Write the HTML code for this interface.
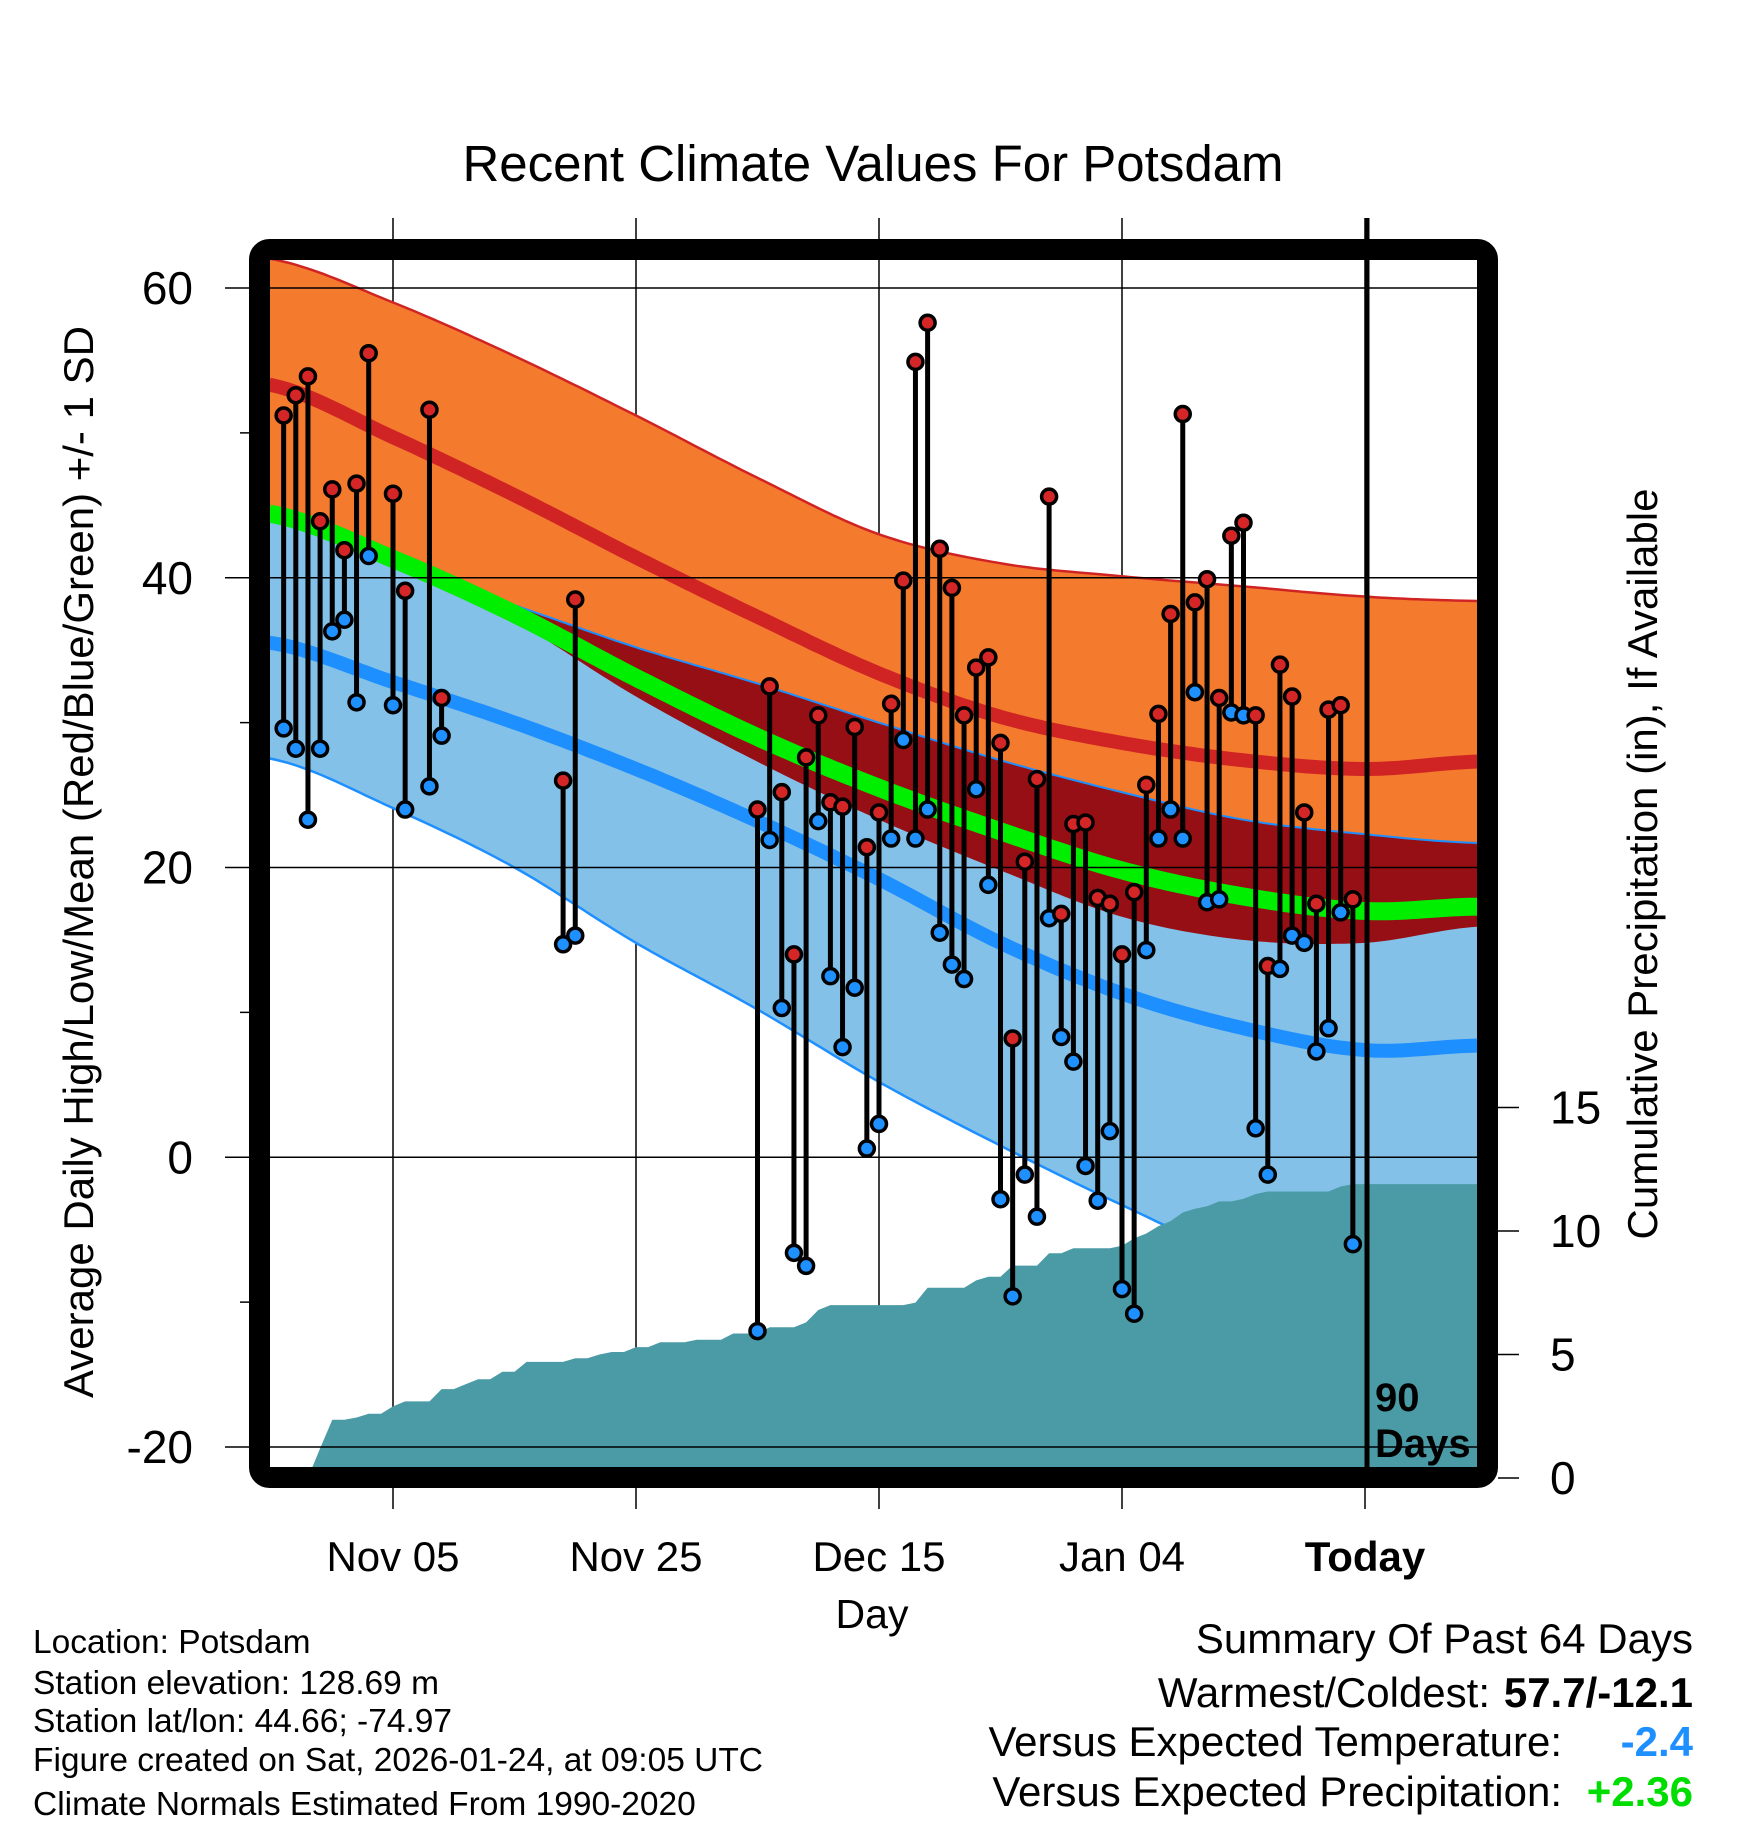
<!DOCTYPE html>
<html><head><meta charset="utf-8">
<style>
html,body{margin:0;padding:0;background:#fff;}
svg{display:block;font-family:"Liberation Sans",Arial,sans-serif;}
</style></head>
<body>
<svg id="chart" width="1748" height="1828" viewBox="0 0 1748 1828" xmlns="http://www.w3.org/2000/svg">
<defs><clipPath id="plotclip"><rect x="270" y="260" width="1207" height="1207"/></clipPath></defs>
<text x="873" y="181" font-size="51" text-anchor="middle">Recent Climate Values For Potsdam</text>
<g id="grid"></g>
<g id="bands" clip-path="url(#plotclip)"></g>
<g id="precip" clip-path="url(#plotclip)"></g>
<g id="hgrid"></g>
<g id="obs"></g>
<line x1="1367" y1="218" x2="1367" y2="1467" stroke="#000" stroke-width="5"/>
<text x="1375" y="1411" font-size="40" font-weight="bold">90</text>
<text x="1375" y="1457" font-size="40" font-weight="bold">Days</text>
<rect x="259.5" y="249.5" width="1228" height="1228" rx="10" fill="none" stroke="#000" stroke-width="21"/>
<g id="axes"></g>
<text transform="translate(93,862) rotate(-90)" font-size="42" text-anchor="middle">Average Daily High/Low/Mean (Red/Blue/Green) +/- 1 SD</text>
<text transform="translate(1657,864) rotate(-90)" font-size="42" text-anchor="middle">Cumulative Precipitation (in), If Available</text>
<text x="872" y="1628" font-size="41" text-anchor="middle">Day</text>
<g font-size="33.5">
<text x="33" y="1653">Location: Potsdam</text>
<text x="33" y="1694">Station elevation: 128.69 m</text>
<text x="33" y="1732">Station lat/lon: 44.66; -74.97</text>
<text x="33" y="1771">Figure created on Sat, 2026-01-24, at 09:05 UTC</text>
<text x="33" y="1815">Climate Normals Estimated From 1990-2020</text>
</g>
<g font-size="42">
<text x="1693" y="1653" text-anchor="end">Summary Of Past 64 Days</text>
<text x="1490" y="1707" text-anchor="end">Warmest/Coldest:</text>
<text x="1693" y="1707" text-anchor="end" font-weight="bold">57.7/-12.1</text>
<text x="1562" y="1756" text-anchor="end">Versus Expected Temperature:</text>
<text x="1693" y="1756" text-anchor="end" font-weight="bold" fill="#1e8fff">-2.4</text>
<text x="1562" y="1806" text-anchor="end">Versus Expected Precipitation:</text>
<text x="1693" y="1806" text-anchor="end" font-weight="bold" fill="#00dd00">+2.36</text>
</g>
</svg>
<script>
// ---- data ----
const normDays = [0,10,20,30,40,50,60,70,80,90,99];
const hiUp   = [62.0,59.0,55.3,51.2,46.9,43.0,41.0,40.1,39.4,38.7,38.4];
const hiMean = [53.3,49.7,45.7,41.4,37.3,33.4,30.4,28.6,27.4,26.8,27.3];
const hiDn   = [44.0,41.0,37.0,31.8,27.3,23.3,19.8,16.6,15.0,14.8,15.9];
const avgMean= [44.4,41.3,37.5,33.1,29.0,25.5,22.5,19.8,18.0,17.0,17.3];
const loUp   = [43.9,40.9,38.1,35.2,32.7,30.0,27.4,25.2,23.3,22.3,21.7];
const loMean = [35.5,32.8,30.0,26.8,23.2,19.2,14.8,11.3,8.9,7.4,7.7];
const loDn   = [27.5,24.1,20.0,14.8,10.2,5.2,0.8,-3.3,-7.0,-9.0,-9.0];
const obsDays = [1,2,3,4,5,6,7,8,10,11,13,14,24,25,40,41,42,43,44,45,46,47,48,49,50,51,52,53,54,55,56,57,58,59,60,61,62,63,64,65,66,67,68,69,70,71,72,73,74,75,76,77,78,79,80,81,82,83,84,85,86,87,88,89];
const highs = [51.2,52.6,53.9,43.9,46.1,41.9,46.5,55.5,45.8,39.1,51.6,31.7,26.0,38.5,24.0,32.5,25.2,14.0,27.6,30.5,24.5,24.2,29.7,21.4,23.8,31.3,39.8,54.9,57.6,42.0,39.3,30.5,33.8,34.5,28.6,8.2,20.4,26.1,45.6,16.8,23.0,23.1,17.9,17.5,14.0,18.3,25.7,30.6,37.5,51.3,38.3,39.9,31.7,42.9,43.8,30.5,13.2,34.0,31.8,23.8,17.5,30.9,31.2,17.8];
const lows  = [29.6,28.2,23.3,28.2,36.3,37.1,31.4,41.5,31.2,24.0,25.6,29.1,14.7,15.3,-12.0,21.9,10.3,-6.6,-7.5,23.2,12.5,7.6,11.7,0.6,2.3,22.0,28.8,22.0,24.0,15.5,13.3,12.3,25.4,18.8,-2.9,-9.6,-1.2,-4.1,16.5,8.3,6.6,-0.6,-3.0,1.8,-9.1,-10.8,14.3,22.0,24.0,22.0,32.1,17.6,17.8,30.7,30.5,2.0,-1.2,13.0,15.3,14.8,7.3,8.9,16.9,-6.0];
const precipCum = [0,0,0,0,1.2,2.36,2.36,2.45,2.6,2.6,2.9,3.1,3.1,3.1,3.6,3.6,3.8,4.0,4.0,4.3,4.3,4.7,4.7,4.7,4.7,4.85,4.85,5.0,5.1,5.1,5.3,5.3,5.5,5.5,5.5,5.6,5.6,5.6,5.85,5.85,5.85,6.1,6.1,6.1,6.3,6.8,7.0,7.0,7.0,7.0,7.0,7.0,7.0,7.1,7.7,7.7,7.7,7.7,8.0,8.15,8.15,8.6,8.6,8.6,9.1,9.1,9.3,9.3,9.3,9.3,9.4,9.7,9.9,10.2,10.4,10.75,10.9,11.0,11.2,11.2,11.3,11.5,11.6,11.6,11.6,11.6,11.6,11.6,11.8,11.9];
const yTicks = [60,40,20,0,-20];
const yMinor = [50,30,10,-10];
const pTicks = [0,5,10,15];
const xTickDays = [10,30,50,70,90];
const xTickLabels = ["Nov 05","Nov 25","Dec 15","Jan 04","Today"];

// ---- scales ----
const X = d => 271.5 + d*12.15;
const Y = v => 288 + (60 - v)*14.4875;
const P = p => 1478 - p*24.7;
const NS = "http://www.w3.org/2000/svg";
function mk(tag, attrs, parent){const e=document.createElementNS(NS,tag);for(const k in attrs)e.setAttribute(k,attrs[k]);parent.appendChild(e);return e;}
function interp(arr, d){
  let i=0; while(i<normDays.length-2 && d>normDays[i+1]) i++;
  const t=(d-normDays[i])/(normDays[i+1]-normDays[i]);
  const p0=arr[Math.max(i-1,0)],p1=arr[i],p2=arr[i+1],p3=arr[Math.min(i+2,arr.length-1)];
  return 0.5*((2*p1)+(-p0+p2)*t+(2*p0-5*p1+4*p2-p3)*t*t+(-p0+3*p1-3*p2+p3)*t*t*t);
}
const steps=[]; for(let d=-0.2; d<=99.6; d+=0.5) steps.push(d);
function linePts(arr){return steps.map(d=>X(d).toFixed(1)+","+Y(interp(arr,d)).toFixed(1));}
function bandPath(upper, lower){
  const a=steps.map(d=>X(d).toFixed(1)+","+Y(upper(d)).toFixed(1));
  const b=steps.slice().reverse().map(d=>X(d).toFixed(1)+","+Y(lower(d)).toFixed(1));
  return "M"+a.join("L")+"L"+b.join("L")+"Z";
}
const grid=document.getElementById("grid"), bands=document.getElementById("bands"), precip=document.getElementById("precip"), obs=document.getElementById("obs"), axes=document.getElementById("axes"), hgrid=document.getElementById("hgrid");

let e;
e=mk("path",{d:bandPath(d=>interp(hiUp,d),d=>interp(hiDn,d)),fill:"#f47a2e"},bands);


e=mk("path",{d:bandPath(d=>interp(loUp,d),d=>interp(loDn,d)),fill:"#84c1e8"},bands);


e=mk("path",{d:bandPath(d=>Math.min(interp(loUp,d),interp(hiUp,d)),d=>Math.min(interp(loUp,d),Math.max(interp(hiDn,d),interp(loDn,d)))),fill:"#960f14"},bands);


const lines=[[hiUp,"#d02424",2.5,"high-plus-sd-line"],[loUp,"#1e8fff",2,"low-plus-sd-line"],[loDn,"#1e8fff",2.5,"low-minus-sd-line"],[hiMean,"#d02424",14,"mean-high-line"],[loMean,"#1e8fff",14,"mean-low-line"],[avgMean,"#00ee00",18,"mean-temp-line"]];
for(const [arr,c,w,n] of lines){
  e=mk("polyline",{points:linePts(arr).join(" "),fill:"none",stroke:c,"stroke-width":w},bands);
  
  
}
let pp="M"+X(0)+","+P(0);
precipCum.forEach((v,i)=>{pp+="L"+X(i).toFixed(1)+","+P(v).toFixed(1);});
pp+="L1480,"+P(precipCum[precipCum.length-1]).toFixed(1)+"L1480,1470L"+X(0)+",1470Z";
e=mk("path",{d:pp,fill:"#4a9ba6"},precip);



xTickDays.forEach((d,i)=>{
  e=mk("line",{x1:X(d),y1:218,x2:X(d),y2:1509,stroke:"#000","stroke-width":1.5},grid);
  
  
  e=mk("text",{x:X(d),y:1571,"font-size":42,"text-anchor":"middle","font-weight":i==4?"bold":"normal"},axes);
  e.textContent=xTickLabels[i];
  
  
});
yTicks.forEach(v=>{
  e=mk("line",{x1:225,y1:Y(v),x2:1477,y2:Y(v),stroke:"#000","stroke-width":1.5},hgrid);
  
  
  e=mk("text",{x:193,y:Y(v)+16,"font-size":46,"text-anchor":"end"},axes);
  e.textContent=v;
  
  
});
yMinor.forEach(v=>{
  e=mk("line",{x1:240,y1:Y(v),x2:250,y2:Y(v),stroke:"#000","stroke-width":1.5},axes);
  
  
});
pTicks.forEach(p=>{
  e=mk("line",{x1:1498,y1:P(p),x2:1519,y2:P(p),stroke:"#000","stroke-width":1.5},axes);
  
  
  e=mk("text",{x:1550,y:P(p)+16,"font-size":46},axes);
  e.textContent=p;
  
  
});
obsDays.forEach((d,i)=>{
  const x=X(d);
  e=mk("line",{x1:x,y1:Y(highs[i]),x2:x,y2:Y(lows[i]),stroke:"#000","stroke-width":5},obs);
  
  
});
obsDays.forEach((d,i)=>{
  const x=X(d);
  e=mk("circle",{cx:x,cy:Y(highs[i]),r:7.5,fill:"#d42626",stroke:"#000","stroke-width":3.5},obs);
  
  
  e=mk("circle",{cx:x,cy:Y(lows[i]),r:7.5,fill:"#1e90ff",stroke:"#000","stroke-width":3.5},obs);
  
  
});
</script>
</body></html>
